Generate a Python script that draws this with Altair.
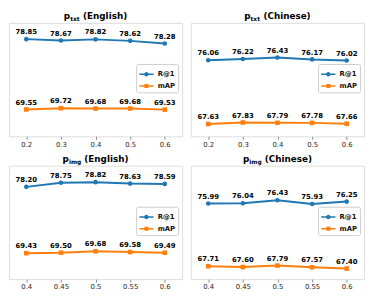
import altair as alt
import pandas as pd

metrics = ["R@1", "mAP"]
colors = ["#1f77b4", "#ff7f0e"]

x_txt = [0.2, 0.3, 0.4, 0.5, 0.6]
x_img = [0.4, 0.45, 0.5, 0.55, 0.6]

txt_en_r1 = [78.85, 78.67, 78.82, 78.62, 78.28]
txt_en_map = [69.55, 69.72, 69.68, 69.68, 69.53]
txt_zh_r1 = [76.06, 76.22, 76.43, 76.17, 76.02]
txt_zh_map = [67.63, 67.83, 67.79, 67.78, 67.66]
img_en_r1 = [78.20, 78.75, 78.82, 78.63, 78.59]
img_en_map = [69.43, 69.50, 69.68, 69.58, 69.49]
img_zh_r1 = [75.99, 76.04, 76.43, 75.93, 76.25]
img_zh_map = [67.71, 67.60, 67.79, 67.57, 67.40]

y_domain = [66, 81]
W, H = 177, 116
FONT = "DejaVu Sans"

# approximate DejaVu Sans Bold advance widths (em)
EM = {"p": 0.716, "t": 0.478, "x": 0.712, "i": 0.343, "m": 1.042, "g": 0.716,
      " ": 0.348, "(": 0.457, ")": 0.457, "E": 0.683, "n": 0.712, "l": 0.343,
      "s": 0.595, "h": 0.712, "C": 0.734, "e": 0.678}


def tw(s, size):
    return sum(EM.get(c, 0.65) for c in s) * size


PATH_C = ("M-1,-0.11H1V0.11H-1Z "
          "M-0.32,0A0.32,0.32 0 1,1 0.32,0A0.32,0.32 0 1,1 -0.32,0Z")
PATH_S = "M-1,-0.11H1V0.11H-1Z M-0.29,-0.29H0.29V0.29H-0.29Z"


def panel(sub, lang, xs, r1, mp, xdom):
    df = pd.DataFrame({
        "x": xs + xs,
        "value": r1 + mp,
        "metric": [metrics[0]] * len(xs) + [metrics[1]] * len(xs),
    })
    base = alt.Chart(df)
    xenc = alt.X("x:Q", scale=alt.Scale(domain=xdom, nice=False, zero=False),
                 axis=alt.Axis(values=xs, title=None, grid=False, domain=False,
                               labelFontSize=7, tickSize=3, labelPadding=1,
                               tickColor="#888", labelColor="#222",
                               format="~g", labelFont=FONT))
    yenc = alt.Y("value:Q", scale=alt.Scale(domain=y_domain, nice=False, zero=False),
                 axis=None)
    cscale = alt.Scale(domain=metrics, range=colors)
    leg = alt.Legend(title=None, orient="none", legendX=W - 47, legendY=42,
                     symbolSize=210, labelFontSize=7, labelFontWeight="bold",
                     labelFont=FONT, labelColor="#111",
                     fillColor="white", strokeColor="#cccccc", padding=3,
                     cornerRadius=2, rowPadding=1, symbolStrokeWidth=0,
                     labelOffset=4)
    sscale = alt.Scale(domain=metrics, range=[PATH_C, PATH_S])

    line = base.mark_line(strokeWidth=2).encode(
        x=xenc, y=yenc, color=alt.Color("metric:N", scale=cscale, legend=leg))
    pc = base.transform_filter(alt.datum.metric == metrics[0]).mark_point(
        shape="circle", filled=True, size=22, opacity=1).encode(
        x=xenc, y=yenc, color=alt.Color("metric:N", scale=cscale, legend=leg))
    ps = base.transform_filter(alt.datum.metric == metrics[1]).mark_point(
        shape="square", filled=True, size=22, opacity=1).encode(
        x=xenc, y=yenc, color=alt.Color("metric:N", scale=cscale, legend=leg))
    labels = base.mark_text(dy=-4, baseline="bottom", fontSize=7, fontWeight="bold",
                            color="black", font=FONT).encode(
        x=xenc, y=yenc, text=alt.Text("value:Q", format=".2f"))

    legend_layer = base.transform_filter("false").mark_point(filled=True, opacity=1).encode(
        x=xenc, y=yenc,
        color=alt.Color("metric:N", scale=cscale, legend=leg),
        shape=alt.Shape("metric:N", scale=sscale, legend=leg),
    )

    # title: p_{sub} (lang)
    main_size, sub_size = 9, 6
    rest = "(" + lang + ")"
    gap = tw(" ", main_size)
    total = tw("p", main_size) + tw(sub, sub_size) + gap + tw(rest, main_size)
    x0 = W / 2 - total / 2
    tdf = pd.DataFrame({"t": ["p"], "s": [sub], "r": [rest]})
    tb = alt.Chart(tdf)
    ty = -4
    t1 = tb.mark_text(align="left", baseline="alphabetic", fontSize=main_size,
                      fontWeight="bold", font=FONT, color="black").encode(
        text="t:N", x=alt.value(x0), y=alt.value(ty))
    t2 = tb.mark_text(align="left", baseline="alphabetic", fontSize=sub_size,
                      fontWeight="bold", font=FONT, color="black").encode(
        text="s:N", x=alt.value(x0 + tw("p", main_size)), y=alt.value(ty + 1.8))
    t3 = tb.mark_text(align="left", baseline="alphabetic", fontSize=main_size,
                      fontWeight="bold", font=FONT, color="black").encode(
        text="r:N", x=alt.value(x0 + tw("p", main_size) + tw(sub, sub_size) + gap),
        y=alt.value(ty))

    return alt.layer(line, pc, ps, labels, legend_layer, t1, t2, t3).properties(
        width=W, height=H)


def indep(c):
    return c.resolve_scale(color="independent", shape="independent").resolve_legend(
        color="independent", shape="independent")


p1 = panel("txt", "English", x_txt, txt_en_r1, txt_en_map, [0.15, 0.65])
p2 = panel("txt", "Chinese", x_txt, txt_zh_r1, txt_zh_map, [0.15, 0.65])
p3 = panel("img", "English", x_img, img_en_r1, img_en_map, [0.375, 0.625])
p4 = panel("img", "Chinese", x_img, img_zh_r1, img_zh_map, [0.375, 0.625])

top = indep(alt.hconcat(p1, p2, spacing=7))
bottom = indep(alt.hconcat(p3, p4, spacing=7))
chart = indep(alt.vconcat(top, bottom, spacing=6)).properties(
    padding=0, background="white"
).configure_view(stroke="#a0a0a0", strokeWidth=1).configure(font=FONT)

chart.save("out.html", embed_options={"renderer": "svg", "actions": False})
